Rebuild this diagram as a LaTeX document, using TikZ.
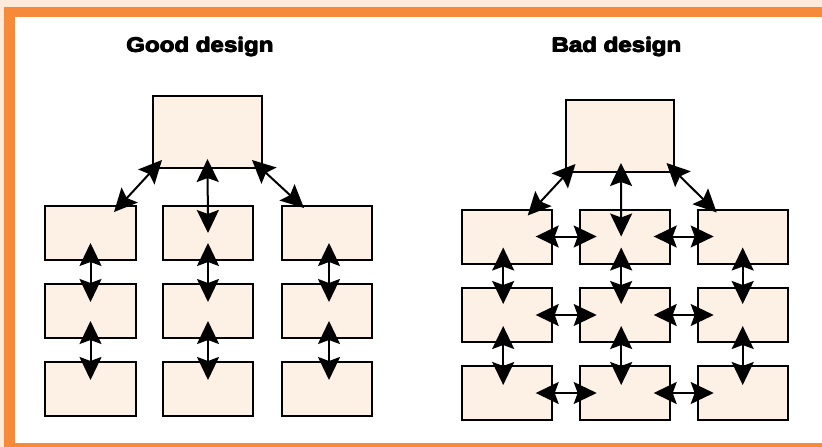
\documentclass[tikz,border=0pt]{standalone}
\usepackage{fontspec}
\setmainfont{Liberation Sans}
\newfontfamily\titlefont{Liberation Sans Bold}
\usetikzlibrary{arrows.meta,calc}
\definecolor{framebg}{HTML}{FDEADA}
\definecolor{frameorange}{HTML}{F68A3A}
\definecolor{boxfill}{HTML}{FDF0E4}
\newcommand{\heavytxt}[1]{\leavevmode\rlap{\kern0.9pt #1}\rlap{\kern0.45pt\raisebox{0.45pt}{#1}}\rlap{\kern0.45pt\raisebox{-0.45pt}{#1}}#1\kern0.9pt}
\tikzset{
  box/.style={draw=black, fill=boxfill, line width=2pt, minimum width=90pt, minimum height=54pt, inner sep=0pt},
  topbox/.style={box, minimum width=108pt, minimum height=72pt},
  arr/.style={line width=2pt, arrows={Stealth[length=23pt,width=22pt,inset=4pt]-Stealth[length=23pt,width=22pt,inset=4pt]}},
  title/.style={anchor=base, inner sep=0pt, font=\titlefont\fontsize{20.4pt}{24pt}\selectfont}
}
\begin{document}
\begin{tikzpicture}[x=1pt,y=-1pt]
% frame
\fill[framebg] (0,0) rectangle (822,447);
\fill[frameorange] (4,7) rectangle (822,447);
\fill[white] (15,17) rectangle (822,443);
\useasboundingbox (0,0) rectangle (822,447);
% titles
\node[title] (tg) at (200,52.3) {\scalebox{1.18}[1]{\heavytxt{Good design}}};
\node[title] (tb) at (616.5,52.3) {\scalebox{1.18}[1]{\heavytxt{Bad design}}};
% ---------- good design ----------
\node[topbox, minimum width=109pt] (T1) at (207.5,132) {};
\node[box, minimum width=91pt] (g11) at (90.5,233) {};
\node[box, minimum width=91pt] (g12) at (90.5,311) {};
\node[box, minimum width=91pt] (g13) at (90.5,389) {};
\node[box] (g21) at (208,233) {};
\node[box] (g22) at (208,311) {};
\node[box] (g23) at (208,389) {};
\node[box] (g31) at (327,233) {};
\node[box] (g32) at (327,311) {};
\node[box] (g33) at (327,389) {};
% good connectors
\draw[arr] ($(T1.south west)+(10,-9)$) -- ($(g11.north east)+(-23,7)$);
\draw[arr] ([yshift=10pt]T1.south) -- (g21.center);
\draw[arr] ($(T1.south east)+(-11,-9)$) -- ($(g31.north west)+(23,3)$);
\draw[arr] ([yshift=18pt]g11.south) -- ([yshift=-19pt]g12.north);
\draw[arr] ([yshift=18pt]g12.south) -- ([yshift=-19pt]g13.north);
\draw[arr] ([yshift=18pt]g21.south) -- ([yshift=-19pt]g22.north);
\draw[arr] ([yshift=18pt]g22.south) -- ([yshift=-19pt]g23.north);
\draw[arr] ([xshift=2pt,yshift=18pt]g31.south) -- ([xshift=2pt,yshift=-19pt]g32.north);
\draw[arr] ([xshift=2pt,yshift=18pt]g32.south) -- ([xshift=2pt,yshift=-19pt]g33.north);
% ---------- bad design ----------
\node[topbox] (T2) at (619.5,136) {};
\node[box] (b11) at (506.7,236.5) {};
\node[box] (b12) at (506.7,315) {};
\node[box] (b13) at (506.7,393) {};
\node[box] (b21) at (624.7,236.5) {};
\node[box] (b22) at (624.7,315) {};
\node[box] (b23) at (624.7,393) {};
\node[box] (b31) at (742.7,236.5) {};
\node[box] (b32) at (742.7,315) {};
\node[box] (b33) at (742.7,393) {};
% bad connectors: top
\draw[arr] ($(T2.south west)+(11,-9)$) -- ($(b11.north east)+(-25,7)$);
\draw[arr] ([xshift=1.5pt,yshift=10pt]T2.south) -- ([xshift=-3.5pt]b21.center);
\draw[arr] ($(T2.south east)+(-8,-10)$) -- ($(b31.north west)+(20,4)$);
% bad connectors: horizontal
\foreach \r in {1,2,3}{
  \draw[arr] ([xshift=-17pt]b1\r.east) -- ([xshift=18pt]b2\r.west);
  \draw[arr] ([xshift=-17pt]b2\r.east) -- ([xshift=17pt]b3\r.west);
}
% bad connectors: vertical
\draw[arr] ([xshift=-3.5pt,yshift=17pt]b11.south) -- ([xshift=-3.5pt,yshift=-17pt]b12.north);
\draw[arr] ([xshift=-3.5pt,yshift=17pt]b12.south) -- ([xshift=-3.5pt,yshift=-20pt]b13.north);
\draw[arr] ([xshift=-3.5pt,yshift=17pt]b21.south) -- ([xshift=-3.5pt,yshift=-17pt]b22.north);
\draw[arr] ([xshift=-3.5pt,yshift=17pt]b22.south) -- ([xshift=-3.5pt,yshift=-20pt]b23.north);
\draw[arr] ([yshift=17pt]b31.south) -- ([yshift=-17pt]b32.north);
\draw[arr] ([yshift=17pt]b32.south) -- ([yshift=-20pt]b33.north);
\end{tikzpicture}
\end{document}
